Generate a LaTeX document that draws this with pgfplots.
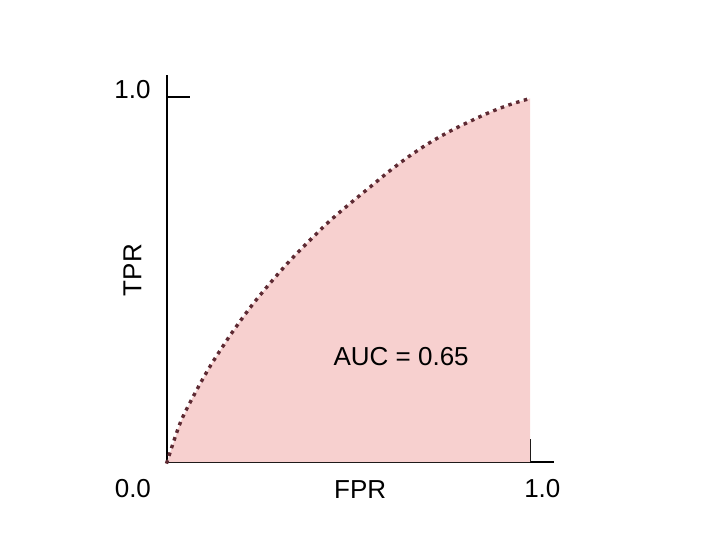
\documentclass[border=0pt]{standalone}
\usepackage{pgfplots}
\pgfplotsset{compat=1.18}
\usepackage{pgfplotstable}
\usepackage{fontspec}
\setmainfont{Liberation Sans}

\definecolor{aucfill}{HTML}{F7D0CF}
\definecolor{rocdot}{HTML}{5E2A33}

% ROC curve (FPR, TPR)
\pgfplotstableread{
fpr    tpr
0.000  0.000
0.036  0.106
0.072  0.179
0.118  0.261
0.174  0.347
0.229  0.423
0.284  0.490
0.339  0.552
0.394  0.608
0.449  0.661
0.504  0.708
0.559  0.753
0.614  0.798
0.669  0.839
0.724  0.875
0.779  0.906
0.834  0.933
0.889  0.958
0.944  0.979
1.000  0.996
}\roc

\tikzset{lbl/.style={font=\fontsize{26bp}{31bp}\selectfont, inner sep=0pt}}

\begin{document}
\begin{tikzpicture}
\useasboundingbox (0,0) rectangle (720bp,539bp);
\begin{axis}[
    at={(167bp,77bp)}, anchor=origin,
    scale only axis,
    width=387bp, height=387bp,
    xmin=0, xmax=1.0661,
    ymin=0, ymax=1.0603,
    axis x line=bottom, axis y line=left,
    axis line style={-, line width=1.8bp, black},
    xtick={1}, ytick={1},
    xticklabels={}, yticklabels={},
    tick align=inside,
    major tick length=23bp,
    tick style={line width=1.8bp, black},
    clip=false,
]
\addplot [draw=none, fill=aucfill] table [x=fpr, y=tpr] {\roc} \closedcycle;
\addplot [rocdot, smooth, line width=3.4bp, line cap=rect,
          dash pattern=on 0.1bp off 8bp] table [x=fpr, y=tpr] {\roc};

\node[lbl] at (axis cs:-0.094,-0.072) {0.0};
\node[lbl] at (axis cs:1.034,-0.074) {1.0};
\node[lbl] at (axis cs:0.532,-0.075) {FPR};
\node[lbl] at (axis cs:-0.095,1.020) {1.0};
\node[lbl, rotate=90] at (axis cs:-0.095,0.526) {TPR};
\node[lbl] at (axis cs:0.645,0.290) {AUC = 0.65};
\end{axis}
\end{tikzpicture}
\end{document}
